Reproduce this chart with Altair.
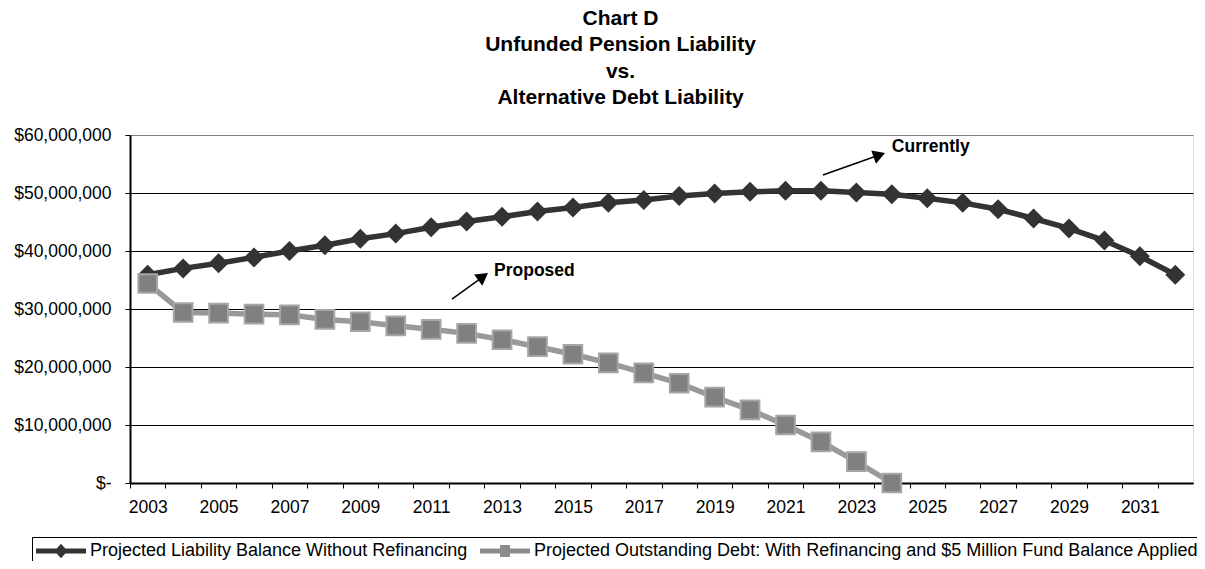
import altair as alt
import pandas as pd

# ---------------- data ----------------
years = list(range(2003, 2033))

# Projected Liability Balance Without Refinancing (dollars)
liability = [35_900_000, 37_000_000, 37_900_000, 38_900_000, 40_000_000,
             41_000_000, 42_100_000, 43_000_000, 44_100_000, 45_100_000,
             45_900_000, 46_800_000, 47_500_000, 48_300_000, 48_800_000,
             49_500_000, 49_900_000, 50_200_000, 50_400_000, 50_400_000,
             50_100_000, 49_800_000, 49_100_000, 48_300_000, 47_200_000,
             45_600_000, 43_900_000, 41_800_000, 39_100_000, 35_900_000]

# Projected Outstanding Debt (2003-2024)
debt_years = list(range(2003, 2025))
debt = [34_400_000, 29_400_000, 29_300_000, 29_100_000, 29_000_000,
        28_200_000, 27_800_000, 27_100_000, 26_500_000, 25_800_000,
        24_700_000, 23_500_000, 22_200_000, 20_700_000, 19_000_000,
        17_200_000, 14_800_000, 12_600_000, 10_000_000, 7_100_000,
        3_700_000, 0]

series_names = ["Projected Liability Balance Without Refinancing",
                "Projected Outstanding Debt: With Refinancing and $5 Million Fund Balance Applied"]
title_lines = ["Chart D", "Unfunded Pension Liability", "vs.", "Alternative Debt Liability"]
y_ticks = [0, 10_000_000, 20_000_000, 30_000_000, 40_000_000, 50_000_000, 60_000_000]

df_a = pd.DataFrame({"year": years, "value": liability})
df_b = pd.DataFrame({"year": debt_years, "value": debt})

# ---------------- styling ----------------
FONT = "Liberation Sans"
FS = 17.5
W, H = 1063, 348
HALF_STEP = W / len(years) / 2

DARK = "#333333"
GRAY_LINE = "#999999"
GRAY_FILL = "#808080"

x_scale = alt.Scale(domain=years)
y_scale = alt.Scale(domain=[0, 60_000_000], nice=False)

x_axis = alt.Axis(title=None, labelAngle=0, labelExpr="datum.value % 2 == 1 ? datum.label : ''",
                  tickOffset=-HALF_STEP, labelOffset=HALF_STEP, labelOverlap=False,
                  tickSize=5, tickColor="black", tickWidth=1,
                  domainColor="black", domainWidth=2, grid=False,
                  labelFont=FONT, labelFontSize=FS, labelColor="black", labelPadding=10)
y_axis = alt.Axis(title=None, values=y_ticks,
                  labelExpr="datum.value == 0 ? '$-' : '$' + format(datum.value, ',')",
                  tickSize=5, tickColor="black", tickWidth=1,
                  domainColor="black", domainWidth=2,
                  grid=True, gridWidth=1,
                  gridColor={"condition": {"test": "datum.value == 60000000", "value": "#808080"},
                             "value": "black"},
                  labelFont=FONT, labelFontSize=FS, labelColor="black", labelPadding=14)

X = alt.X("year:O", scale=x_scale, axis=x_axis)
Y = alt.Y("value:Q", scale=y_scale, axis=y_axis)

line_a = alt.Chart(df_a).mark_line(color=DARK, strokeWidth=5.5).encode(x=X, y=Y)
pts_a = alt.Chart(df_a).mark_point(shape="diamond", filled=True, color=DARK, size=400, opacity=1).encode(x=X, y=Y)
line_b = alt.Chart(df_b).mark_line(color=GRAY_LINE, strokeWidth=5.5).encode(x=X, y=Y)
pts_b = alt.Chart(df_b).mark_square(fill=GRAY_FILL, stroke="#a6a6a6", strokeWidth=2,
                                    size=350, opacity=1).encode(x=X, y=Y)

# ---- annotations (positioned in data units) ----
def text_layer(label, yr, val, dx):
    d = pd.DataFrame({"year": [yr], "value": [val], "label": [label]})
    return alt.Chart(d).mark_text(align="left", baseline="middle", font=FONT, fontSize=FS,
                                  fontWeight="bold", color="black", dx=dx).encode(
        x=alt.X("year:O", scale=x_scale), y=alt.Y("value:Q", scale=y_scale), text="label:N")

def arrow_layers(y0, v0, off0, y1, v1, off1, angle):
    d = pd.DataFrame({"year": [y0], "year2": [y1], "value": [v0], "value2": [v1]})
    rule = alt.Chart(d).mark_rule(color="black", strokeWidth=1.5, xOffset=off0, x2Offset=off1).encode(
        x=alt.X("year:O", scale=x_scale), x2="year2:O",
        y=alt.Y("value:Q", scale=y_scale), y2="value2:Q")
    head = alt.Chart(d).mark_point(shape="triangle-up", filled=True, color="black", size=196,
                                   opacity=1, angle=angle, xOffset=off1).encode(
        x=alt.X("year2:O", scale=x_scale), y=alt.Y("value2:Q", scale=y_scale))
    return [rule, head]

annots = []
annots += arrow_layers(2022, 53_100_000, 2, 2024, 56_550_000, -12.5, 70.5)
annots += arrow_layers(2012, 31_700_000, -14.6, 2012, 35_600_000, 16.5, 54.2)
annots.append(text_layer("Currently", 2024, 57_900_000, 0))
annots.append(text_layer("Proposed", 2013, 36_550_000, -8))

# ---- legend (built from the scale domain) ----
# symbol size 256 -> path unit = 8px; paths drawn as a 50px line with a marker in the middle
path_a = "M-1.25,-0.31H5V0.31H-1.25Z M1.875,-0.9L2.7,0L1.875,0.9L1.05,0Z"
path_b = "M-1.25,-0.31H5V0.31H-1.25Z M1.25,-0.75H2.5V0.75H1.25Z"
leg_kwargs = dict(title=None, orient="none", legendX=-98, legendY=402, direction="horizontal",
                  strokeColor="black", padding=5, labelFont=FONT, labelFontSize=18,
                  labelColor="black", labelLimit=2000, labelOffset=35, columnPadding=12,
                  symbolStrokeWidth=0, symbolOpacity=1, symbolSize=256)
legend_df = pd.DataFrame({"series": series_names})
legend_layer = alt.Chart(legend_df).mark_point(filled=True, opacity=1, size=256).encode(
    x=alt.value(0), y=alt.value(0),
    color=alt.Color("series:N", scale=alt.Scale(domain=series_names, range=[DARK, "#8c8c8c"]),
                    legend=alt.Legend(**leg_kwargs)),
    shape=alt.Shape("series:N", scale=alt.Scale(domain=series_names, range=[path_a, path_b]),
                    legend=alt.Legend(**leg_kwargs)),
).transform_filter("false")

chart = alt.layer(line_a, pts_a, line_b, pts_b, *annots, legend_layer).properties(
    width=W, height=H,
    autosize=alt.AutoSizeParams(type="none"),
    padding={"left": 122, "top": 127, "right": 4, "bottom": 78},
    title=alt.TitleParams(text=title_lines, font=FONT, fontSize=21, fontWeight="bold",
                          color="black", lineHeight=26.5, anchor="middle", dx=-41, offset=18),
).configure_view(stroke="#808080", strokeWidth=2).configure(background="white")

chart.save("out.html", embed_options={"renderer": "svg", "actions": False})
